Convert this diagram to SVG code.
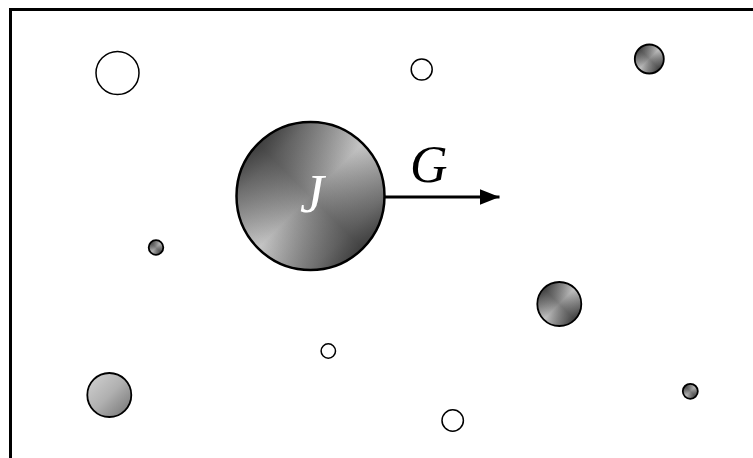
<svg xmlns="http://www.w3.org/2000/svg" width="753" height="458" viewBox="0 0 753 458">
<defs>
<linearGradient id="gA" x1="1" y1="0" x2="0" y2="1">
<stop offset="0" stop-color="#eeeeee"/>
<stop offset="0.5" stop-color="#8a8a8a"/>
<stop offset="1" stop-color="#eeeeee"/>
</linearGradient>
<linearGradient id="gB" x1="0" y1="0" x2="1" y2="1">
<stop offset="0" stop-color="#1a1a1a" stop-opacity="1"/>
<stop offset="0.25" stop-color="#1a1a1a" stop-opacity="0.45"/>
<stop offset="0.5" stop-color="#1a1a1a" stop-opacity="0.05"/>
<stop offset="0.75" stop-color="#1a1a1a" stop-opacity="0.45"/>
<stop offset="1" stop-color="#1a1a1a" stop-opacity="1"/>
</linearGradient>
<linearGradient id="gL" x1="0" y1="0" x2="1" y2="1">
<stop offset="0" stop-color="#d4d4d4"/>
<stop offset="0.5" stop-color="#b0b0b0"/>
<stop offset="1" stop-color="#707070"/>
</linearGradient>
<marker id="arr" viewBox="0 0 20 16" refX="20" refY="8" markerWidth="20" markerHeight="16" markerUnits="userSpaceOnUse" orient="auto">
<path d="M0,0 L20,8 L0,16 z" fill="#000"/>
</marker>
</defs>
<style>
.hollow{fill:#fff;stroke:#000;stroke-width:1.5}
.rim{fill:none;stroke:#000;stroke-width:1.8}
.lbl{font-family:"Liberation Serif","DejaVu Serif",serif;font-style:italic}
</style>
<rect x="10.5" y="9.5" width="780" height="480" fill="#fff" stroke="#000" stroke-width="3"/>
<g id="connectors">
<line x1="385" y1="197" x2="499.5" y2="197" stroke="#000" stroke-width="3.2" marker-end="url(#arr)"/>
<text class="lbl" x="410" y="182" font-size="52">G</text>
</g>
<g id="J">
<circle cx="310.5" cy="196" r="74" fill="url(#gA)"/>
<circle cx="310.5" cy="196" r="74" fill="url(#gB)"/>
<circle cx="310.5" cy="196" r="74" fill="none" stroke="#000" stroke-width="2.5"/>
<text class="lbl" x="312" y="212" font-size="54" fill="#fff" text-anchor="middle">J</text>
</g>
<g id="h1"><circle class="hollow" cx="117.5" cy="73" r="21.5"/></g>
<g id="h2"><circle class="hollow" cx="421.7" cy="69.5" r="10.5"/></g>
<g id="h3"><circle class="hollow" cx="328.3" cy="351" r="7.2"/></g>
<g id="h4"><circle class="hollow" cx="452.7" cy="420.5" r="10.7"/></g>
<g id="b1"><circle cx="649.3" cy="59" r="14.5" fill="url(#gA)"/><circle cx="649.3" cy="59" r="14.5" fill="url(#gB)"/><circle class="rim" cx="649.3" cy="59" r="14.5"/></g>
<g id="b2"><circle cx="559.3" cy="304" r="22" fill="url(#gA)"/><circle cx="559.3" cy="304" r="22" fill="url(#gB)"/><circle class="rim" cx="559.3" cy="304" r="22"/></g>
<g id="b3"><circle cx="109.3" cy="395" r="22" fill="url(#gL)"/><circle class="rim" cx="109.3" cy="395" r="22"/></g>
<g id="b4"><circle cx="690.3" cy="391.3" r="7.5" fill="url(#gA)"/><circle cx="690.3" cy="391.3" r="7.5" fill="url(#gB)"/><circle class="rim" cx="690.3" cy="391.3" r="7.5" stroke-width="1.3"/></g>
<g id="b5"><circle cx="156" cy="247.5" r="7.3" fill="url(#gA)"/><circle cx="156" cy="247.5" r="7.3" fill="url(#gB)"/><circle class="rim" cx="156" cy="247.5" r="7.3" stroke-width="1.3"/></g>
</svg>
